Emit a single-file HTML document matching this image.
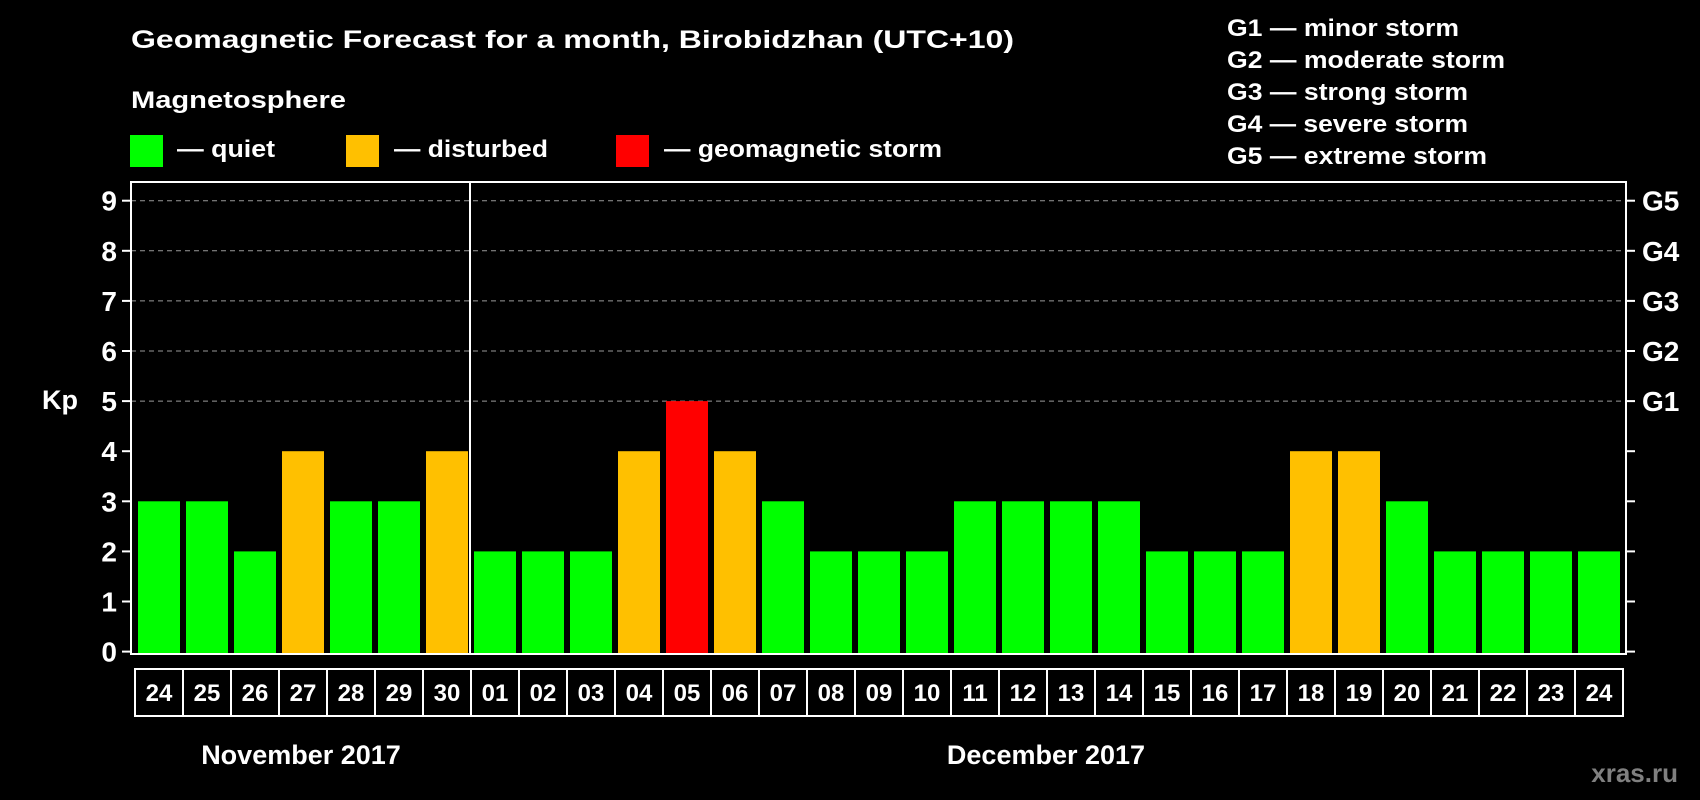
<!DOCTYPE html>
<html><head><meta charset="utf-8"><style>
html,body{margin:0;padding:0;background:#000;}
svg{display:block;font-family:"Liberation Sans",Arial,sans-serif;font-weight:bold;}
</style></head><body>
<svg id="chart" width="1700" height="800" viewBox="0 0 1700 800" xmlns="http://www.w3.org/2000/svg">
<rect width="1700" height="800" fill="#000"/>
<text x="131" y="48" fill="#fff" font-size="25" textLength="883" lengthAdjust="spacingAndGlyphs">Geomagnetic Forecast for a month, Birobidzhan (UTC+10)</text>
<text x="131" y="108" fill="#fff" font-size="24" textLength="215" lengthAdjust="spacingAndGlyphs">Magnetosphere</text>
<g><rect x="130" y="135" width="33" height="32" fill="#00ff00"/><text x="177" y="157" fill="#fff" font-size="24" textLength="98" lengthAdjust="spacingAndGlyphs">— quiet</text></g>
<g><rect x="346" y="135" width="33" height="32" fill="#ffc000"/><text x="394" y="157" fill="#fff" font-size="24" textLength="154" lengthAdjust="spacingAndGlyphs">— disturbed</text></g>
<g><rect x="616" y="135" width="33" height="32" fill="#ff0000"/><text x="664" y="157" fill="#fff" font-size="24" textLength="278" lengthAdjust="spacingAndGlyphs">— geomagnetic storm</text></g>
<g fill="#fff" font-size="24">
<text x="1227" y="36" textLength="232" lengthAdjust="spacingAndGlyphs">G1 — minor storm</text>
<text x="1227" y="68" textLength="278" lengthAdjust="spacingAndGlyphs">G2 — moderate storm</text>
<text x="1227" y="100" textLength="241" lengthAdjust="spacingAndGlyphs">G3 — strong storm</text>
<text x="1227" y="132" textLength="241" lengthAdjust="spacingAndGlyphs">G4 — severe storm</text>
<text x="1227" y="164" textLength="260" lengthAdjust="spacingAndGlyphs">G5 — extreme storm</text>
</g>
<g id="grid"></g>
<g id="bars"></g>
<g id="axes"></g>
<text x="42" y="409" fill="#fff" font-size="27">Kp</text>
<text x="301" y="764" fill="#fff" font-size="27" text-anchor="middle">November 2017</text>
<text x="1046" y="764" fill="#fff" font-size="27" text-anchor="middle">December 2017</text>
<text x="1678" y="782" fill="#808080" font-size="26" text-anchor="end">xras.ru</text>
</svg>
<script>
const days = ["24","25","26","27","28","29","30","01","02","03","04","05","06","07","08","09","10","11","12","13","14","15","16","17","18","19","20","21","22","23","24"];
const kpValues = [3,3,2,4,3,3,4,2,2,2,4,5,4,3,2,2,2,3,3,3,3,2,2,2,4,4,3,2,2,2,2];
const yTicks = [0,1,2,3,4,5,6,7,8,9];
const gLabels = ["G1","G2","G3","G4","G5"];
const monthBreakIndex = 7;

const NS="http://www.w3.org/2000/svg";
const plotL=131, plotR=1626, plotT=182, plotB=654;
const x0=135, pitch=48;
function yScale(v){return 651.6 - v*50.1;}
function xScale(i){return x0 + i*pitch;}
function mk(tag,attrs,parent){const e=document.createElementNS(NS,tag);for(const k in attrs)e.setAttribute(k,attrs[k]);parent.appendChild(e);return e;}
function colorFor(v){return v>=5?"#ff0000":(v>=4?"#ffc000":"#00ff00");}

const grid=document.getElementById("grid"), bars=document.getElementById("bars"), axes=document.getElementById("axes");
yTicks.forEach(t=>{
  const y=yScale(t);
  if(t>=5){
    const l=mk("line",{x1:plotL,x2:plotR,y1:y,y2:y,stroke:"#999","stroke-width":1,"stroke-dasharray":"5,4"},grid);
    
    
  }
  mk("line",{x1:122,x2:plotL,y1:y,y2:y,stroke:"#fff","stroke-width":2},axes);
  mk("line",{x1:plotR,x2:plotR+9,y1:y,y2:y,stroke:"#fff","stroke-width":2},axes);
  const tl=mk("text",{x:117,y:y+10,fill:"#fff","font-size":28,"text-anchor":"end"},axes);
  tl.textContent=t;
  
  
});
gLabels.forEach((g,i)=>{
  const t=mk("text",{x:1642,y:yScale(5+i)+10,fill:"#fff","font-size":28},axes);
  t.textContent=g;
  
  
});
kpValues.forEach((v,i)=>{
  const r=mk("rect",{x:xScale(i)+3,y:yScale(v),width:42,height:plotB-yScale(v),fill:colorFor(v)},bars);
  
  
});
mk("rect",{x:plotL,y:plotT,width:plotR-plotL,height:plotB-plotT,fill:"none",stroke:"#fff","stroke-width":2},axes);
mk("line",{x1:xScale(monthBreakIndex)-1,x2:xScale(monthBreakIndex)-1,y1:plotT,y2:plotB,stroke:"#fff","stroke-width":2},axes);
days.forEach((d,i)=>{
  const b=mk("rect",{x:xScale(i),y:669,width:pitch,height:47,fill:"none",stroke:"#fff","stroke-width":2},axes);
  
  
  const t=mk("text",{x:xScale(i)+pitch/2,y:701,fill:"#fff","font-size":24,"text-anchor":"middle"},axes);
  t.textContent=d;
  
  
});
</script>
</body></html>
